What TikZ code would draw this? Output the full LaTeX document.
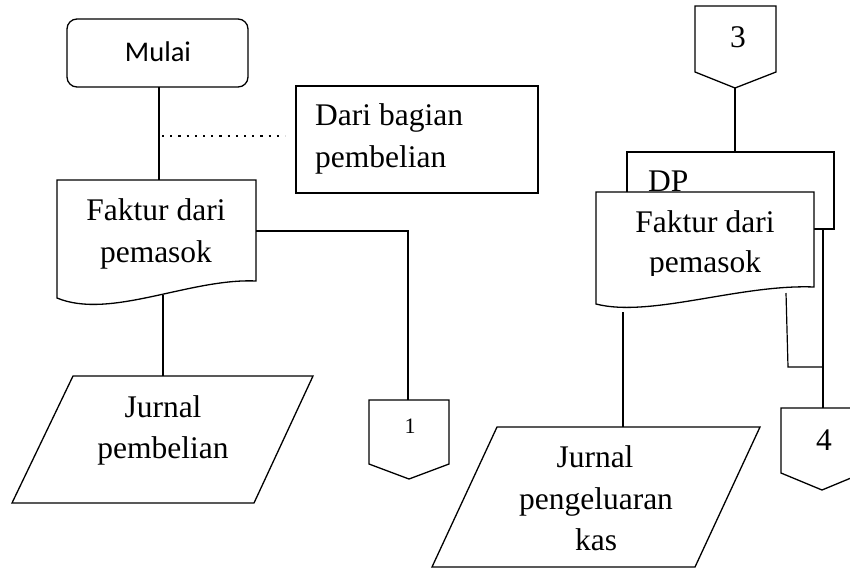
\documentclass[tikz,border=0pt]{standalone}
\usepackage{fontspec}
\setmainfont{Liberation Serif}
\newfontfamily\calfont{Carlito}
\begin{document}
\begin{tikzpicture}[x=1pt,y=-1pt,
  shp/.style={line width=1.3pt, line join=miter},
  conn/.style={line width=1.2pt},
  dotline/.style={line width=2.4pt, dash pattern=on 2.2pt off 6pt},
  lbl/.style={font=\fontsize{31.5}{38}\selectfont, inner sep=0pt, anchor=base},
  smalllbl/.style={font=\fontsize{22}{26}\selectfont, inner sep=0pt, anchor=base}]
\useasboundingbox (0,0) rectangle (850,568);
\clip (0,0) rectangle (850,568);

% ---------- left column ----------
% Mulai
\node[shp, draw, rounded corners=10pt, minimum width=181pt, minimum height=68pt, inner sep=0pt] (mulai) at (157.5,53) {};
\node[font=\calfont\fontsize{28.5}{34}\selectfont, inner sep=0pt, anchor=base] (mulaiT) at (158,61) {Mulai};
\coordinate (mulaiB) at (159,87);

% Dari bagian pembelian
\node[draw, line width=1.1pt, minimum width=242pt, minimum height=107pt, inner sep=0pt] (dari) at (417,139.5) {};
\node[lbl, anchor=base west] (dariA) at (315,125) {Dari bagian};
\node[lbl, anchor=base west] (dariB) at (315,167) {pembelian};

% Faktur dari pemasok (left)
\draw[shp, fill=white] (57,180) -- (256,180) -- (256,281) .. controls (190,278) and (110,320) .. (57,298) -- cycle;
\coordinate (fakLT) at (159,180);
\coordinate (fakLR) at (256,231);
\coordinate (fakLB) at (163,295);
\node[lbl] (fakLa) at (156,220) {Faktur dari};
\node[lbl] (fakLb) at (156,262) {pemasok};

% dotted annotation line
\coordinate (dotA) at (162,136);
\coordinate (dotB) at (285,136);
\draw[dotline] (dotA) -- (dotB);

% Jurnal pembelian
\draw[shp] (73,376) -- (313,376) -- (254,503) -- (12,503) -- cycle;
\coordinate (jpT) at (163,376);
\node[lbl] (jpa) at (163,417) {Jurnal};
\node[lbl] (jpb) at (163,458) {pembelian};

% off-page connector 1
\draw[shp] (369,400) -- (449,400) -- (449,464) -- (409,479) -- (369,464) -- cycle;
\coordinate (c1T) at (408,400);
\coordinate (c1turn) at (408,231);
\node[smalllbl] (c1) at (410,433) {1};

% connectors left
\draw[conn] (mulaiB) -- (fakLT);
\draw[conn] (fakLB) -- (jpT);
\draw[conn] (fakLR) -- (c1turn) -- (c1T);

% ---------- right column ----------
% off-page connector 3
\draw[shp] (695,6) -- (776,6) -- (776,72) -- (735,88) -- (695,72) -- cycle;
\coordinate (c3B) at (735,88);
\node[lbl] (c3) at (738,47) {3};

% DP document (behind)
\draw[shp] (627,152) rectangle (834,229);
\coordinate (dpT) at (735,152);
\coordinate (dpB) at (823,229);
\node[lbl, anchor=base west] (dp) at (648,191) {DP};

% Faktur dari pemasok (right, in front)
\draw[shp, fill=white] (596,192) -- (814,192) -- (814,287) .. controls (740,284) and (650,318) .. (596,304) -- cycle;
\begin{scope}
\clip (596,192) rectangle (814,275);
\node[lbl] (fakRa) at (705,232) {Faktur dari};
\node[lbl] (fakRb) at (705,272) {pemasok};
\end{scope}
\coordinate (fakRB) at (623,312);
\coordinate (fakRB2) at (786,293);
\coordinate (fakRbend) at (788,367);
\coordinate (joinR) at (823,367);

% Jurnal pengeluaran kas
\draw[shp] (497,427) -- (760,427) -- (695,567) -- (432,567) -- cycle;
\coordinate (jkT) at (623,427);
\node[lbl] (jka) at (595,467) {Jurnal};
\node[lbl] (jkb) at (596,509) {pengeluaran};
\node[lbl] (jkc) at (596,550) {kas};

% off-page connector 4
\draw[shp] (781,408) -- (863,408) -- (863,473) -- (822,490) -- (781,473) -- cycle;
\coordinate (c4T) at (823,408);
\node[lbl] (c4) at (824,450) {4};

% connectors right
\draw[conn] (c3B) -- (dpT);
\draw[conn] (dpB) -- (c4T);
\draw[conn] (fakRB2) -- (fakRbend) -- (joinR);
\draw[conn] (fakRB) -- (jkT);
\end{tikzpicture}
\end{document}
